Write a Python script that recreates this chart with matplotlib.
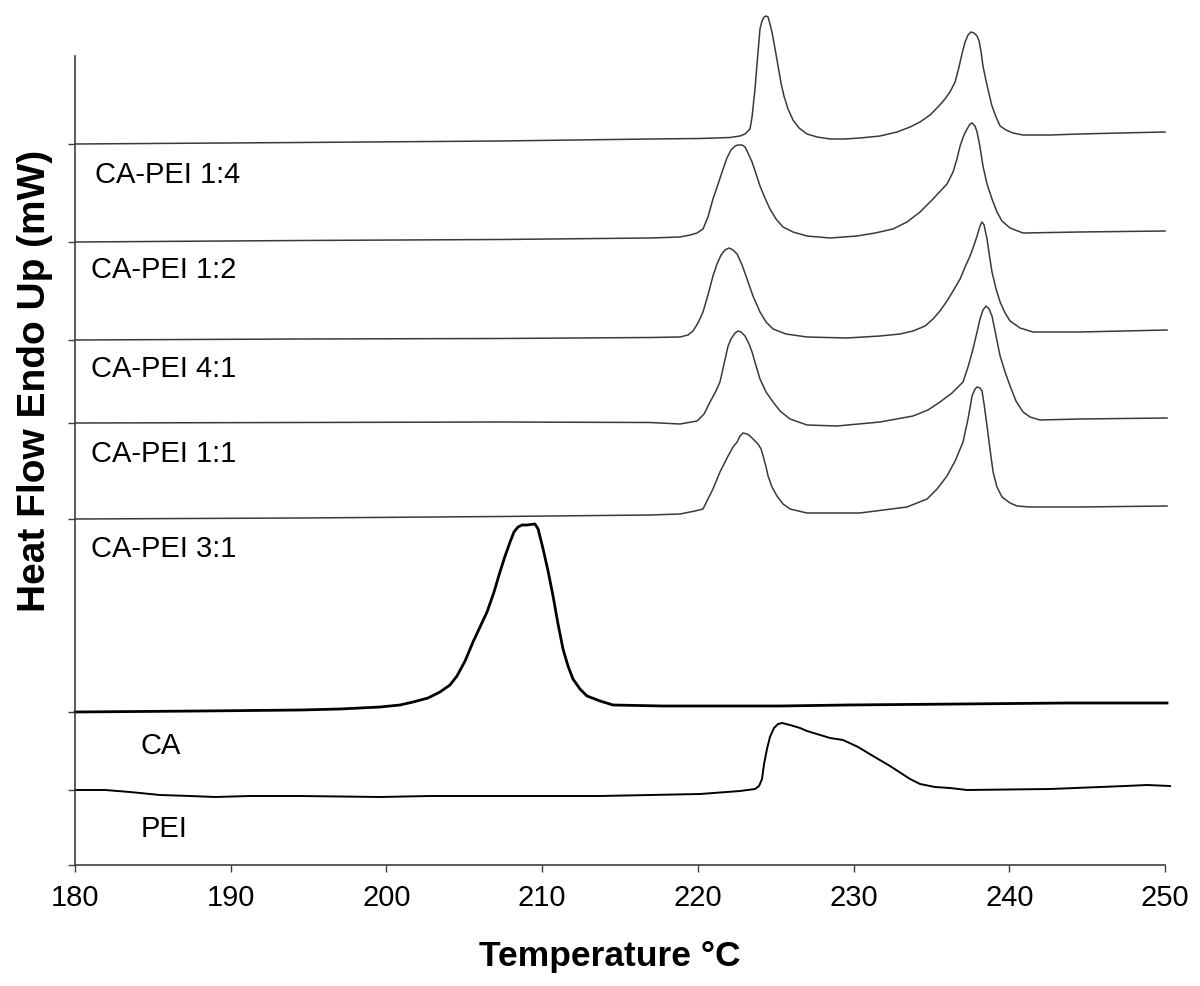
import matplotlib.pyplot as plt

plt.rcParams['font.family'] = ['Liberation Sans', 'DejaVu Sans']

# DSC heating curves, stacked (arbitrary heat-flow units, endo up)
t_14 = [180.0, 194.45, 207.29, 216.93, 220.14, 222.07, 222.71, 223.03, 223.35, 223.48, 223.67, 223.80,
        223.99, 224.12, 224.25, 224.38, 224.51, 224.63, 224.76, 224.96, 225.15, 225.34, 225.53, 225.79,
        226.11, 226.50, 227.01, 227.65, 228.49, 229.45, 230.41, 231.70, 232.79, 233.63, 234.27, 234.91,
        235.42, 235.87, 236.19, 236.52, 236.77, 236.96, 237.16, 237.35, 237.54, 237.74, 237.93, 238.06,
        238.19, 238.31, 238.51, 238.70, 238.89, 239.15, 239.41, 239.79, 240.24, 240.88, 242.62, 244.54,
        247.11, 250.0]
hf_14 = [721, 722.5, 724, 726, 726.5, 727.5, 729, 731, 736, 748, 776, 801, 836, 844, 848, 849, 848, 841,
         833, 816, 799, 782, 769, 756, 745, 737, 731, 728, 726, 726, 727, 729, 733, 738, 743, 750, 758,
         766, 773, 783, 798, 811, 823, 830, 833, 832, 829, 824, 813, 799, 784, 771, 759, 748, 739, 735,
         732, 730, 730, 731, 732, 733]

t_12 = [180.0, 194.45, 207.29, 216.93, 218.85, 219.50, 219.95, 220.33, 220.65, 220.97, 221.30, 221.62,
        221.87, 222.13, 222.39, 222.58, 222.84, 223.03, 223.22, 223.48, 223.74, 223.99, 224.31, 224.63,
        225.02, 225.47, 226.11, 227.01, 228.49, 230.22, 231.38, 232.53, 233.43, 234.27, 235.10, 236.00,
        236.39, 236.64, 236.84, 237.09, 237.29, 237.48, 237.61, 237.80, 237.93, 238.12, 238.31, 238.57,
        238.89, 239.21, 239.53, 240.05, 240.88, 244.54, 250.0]
hf_12 = [623, 624.5, 625.5, 627, 628, 630, 632, 636, 648, 666, 681, 696, 707, 715, 719, 720, 720, 718,
         712, 703, 691, 679, 667, 656, 646, 638, 633, 629, 627, 629, 632, 636, 643, 653, 666, 681, 693,
         706, 719, 730, 736, 741, 742, 739, 733, 718, 699, 681, 666, 653, 644, 637, 632, 633, 634]

t_41 = [180.0, 194.45, 207.29, 216.93, 218.85, 219.37, 219.69, 220.01, 220.33, 220.65, 220.97, 221.23,
        221.49, 221.74, 222.00, 222.26, 222.52, 222.84, 223.16, 223.54, 223.99, 224.38, 224.83, 225.66,
        227.01, 229.58, 231.70, 232.98, 233.82, 234.59, 235.10, 235.55, 236.00, 236.39, 236.84, 237.16,
        237.48, 237.74, 237.93, 238.12, 238.25, 238.38, 238.57, 238.76, 238.89, 239.15, 239.41, 239.73,
        240.05, 240.69, 241.52, 244.54, 250.13]
hf_41 = [525, 526, 526.5, 527.5, 528, 530, 534, 542, 553, 570, 589, 601, 610, 615, 617, 615, 611, 600,
         586, 569, 553, 543, 536, 531, 528, 527, 529, 531, 534, 539, 546, 554, 564, 574, 586, 598, 609,
         620, 629, 639, 643, 640, 626, 606, 593, 576, 563, 552, 544, 537, 533, 533, 535]

t_11 = [180.0, 194.45, 207.29, 216.93, 218.85, 219.95, 220.40, 220.78, 221.10, 221.42, 221.68, 221.94,
        222.13, 222.39, 222.58, 222.77, 223.03, 223.29, 223.48, 223.74, 223.99, 224.38, 224.83, 225.28,
        225.92, 227.01, 228.94, 231.70, 233.82, 234.78, 235.55, 236.32, 237.03, 237.35, 237.67, 237.93,
        238.12, 238.31, 238.51, 238.70, 238.89, 239.15, 239.41, 239.73, 240.05, 240.43, 240.88, 241.33,
        241.97, 244.54, 250.13]
hf_11 = [442, 442.5, 443, 442.5, 441, 444, 451, 463, 472, 483, 501, 519, 526, 532, 534, 533, 529, 521,
         513, 499, 486, 473, 463, 454, 446, 440, 439, 443, 449, 455, 463, 472, 483, 498, 516, 533, 546,
         555, 559, 556, 549, 529, 509, 493, 479, 464, 453, 448, 445, 446, 447]

t_31 = [180.0, 194.45, 207.29, 216.93, 218.85, 219.82, 220.33, 220.65, 220.97, 221.42, 221.94, 222.26,
        222.52, 222.71, 222.90, 223.16, 223.35, 223.61, 223.86, 224.06, 224.19, 224.38, 224.51, 224.76,
        225.08, 225.47, 225.92, 227.01, 230.41, 233.43, 234.72, 235.36, 236.00, 236.52, 237.03, 237.35,
        237.61, 237.80, 237.93, 238.12, 238.25, 238.38, 238.57, 238.76, 238.96, 239.21, 239.53, 240.05,
        240.50, 241.33, 244.54, 250.13]
hf_31 = [346, 347, 348.5, 350, 351, 354, 356, 366, 376, 393, 409, 418, 423, 429, 432, 431, 429, 425, 421,
         416, 409, 398, 389, 378, 369, 361, 356, 352, 352, 358, 366, 376, 389, 404, 423, 446, 469, 476,
         478, 477, 474, 461, 439, 416, 393, 378, 368, 362, 359, 358, 358, 359]

t_ca = [180.0, 188.03, 194.45, 197.02, 199.59, 200.87, 201.71, 202.67, 203.44, 204.08, 204.53, 205.05,
        205.56, 206.01, 206.46, 206.91, 207.29, 207.62, 207.94, 208.19, 208.45, 208.71, 209.03, 209.54,
        209.74, 210.06, 210.38, 210.70, 211.02, 211.34, 211.66, 211.98, 212.43, 212.88, 213.72, 214.55,
        217.76, 220.97, 225.28, 229.58, 236.84, 243.71, 250.13]
hf_ca = [153, 154, 155, 156, 158, 160, 163, 167, 173, 180, 189, 204, 223, 238, 253, 273, 293, 309, 323,
         333, 338, 340, 340, 341, 336, 316, 294, 269, 241, 216, 199, 186, 176, 169, 164, 160, 159, 159,
         159, 160, 161, 162, 162]

t_pei = [180.0, 181.93, 183.53, 185.46, 187.39, 188.99, 191.24, 194.45, 199.59, 202.80, 207.29, 213.72,
         220.14, 222.71, 223.67, 223.93, 224.12, 224.25, 224.44, 224.63, 224.89, 225.15, 225.41, 225.66,
         225.92, 226.56, 227.01, 227.85, 228.49, 229.32, 230.29, 231.25, 232.34, 233.63, 234.27, 235.23,
         236.19, 237.29, 242.62, 245.83, 247.43, 248.85, 250.32]
hf_pei = [75, 75, 73, 70, 69, 68, 69, 69, 68, 69, 69, 69, 71, 74, 76, 79, 86, 101, 116, 128, 137, 141,
          142, 141, 140, 137, 134, 130, 127, 125, 118, 109, 99, 86, 81, 78, 77, 75, 76, 78, 79, 80, 79]

names = ['CA-PEI 1:4', 'CA-PEI 1:2', 'CA-PEI 4:1', 'CA-PEI 1:1', 'CA-PEI 3:1', 'CA', 'PEI']
temps = [t_14, t_12, t_41, t_11, t_31, t_ca, t_pei]
flows = [hf_14, hf_12, hf_41, hf_11, hf_31, hf_ca, hf_pei]

# where the name of each curve sits (temperature, heat flow)
label_pos = [(181.3, 691), (181.0, 596), (181.0, 497), (181.0, 412), (181.0, 317), (184.2, 120), (184.2, 37)]
widths = [1.1, 1.1, 1.1, 1.1, 1.1, 2.0, 1.4]
colors = ['#3a3a3a'] * 5 + ['black', 'black']

fig = plt.figure(figsize=(12, 9.87), dpi=100)
ax = fig.add_axes([75 / 1200, 121 / 987, 1090 / 1200, 809 / 987])

for t, hf, lw, c in zip(temps, flows, widths, colors):
    ax.plot(t, hf, color=c, lw=lw, clip_on=False, solid_joinstyle='round')

for name, (x, y) in zip(names, label_pos):
    ax.text(x, y, name, fontsize=21, ha='left', va='center')

ax.set_xlim(180, 250)
ax.set_ylim(0, 809)
ax.set_xticks(range(180, 251, 10))
ax.set_yticks([0] + [hf[0] for hf in flows])
ax.set_yticklabels([])
ax.tick_params(axis='x', labelsize=21, length=5, width=1, direction='out', pad=8, color='#404040')
ax.tick_params(axis='y', length=5, width=1, direction='out', color='#404040')

for side in ['top', 'right']:
    ax.spines[side].set_visible(False)
for side in ['left', 'bottom']:
    ax.spines[side].set_color('#404040')
    ax.spines[side].set_linewidth(1.2)

fig.text(610 / 1200, 1 - 957 / 987, 'Temperature °C', fontsize=25.5, fontweight='bold',
         ha='center', va='center')
fig.text(35 / 1200, 1 - 381 / 987, 'Heat Flow Endo Up (mW)', fontsize=28, fontweight='bold',
         ha='center', va='center', rotation=90)

fig.savefig('out.png', dpi=100)
